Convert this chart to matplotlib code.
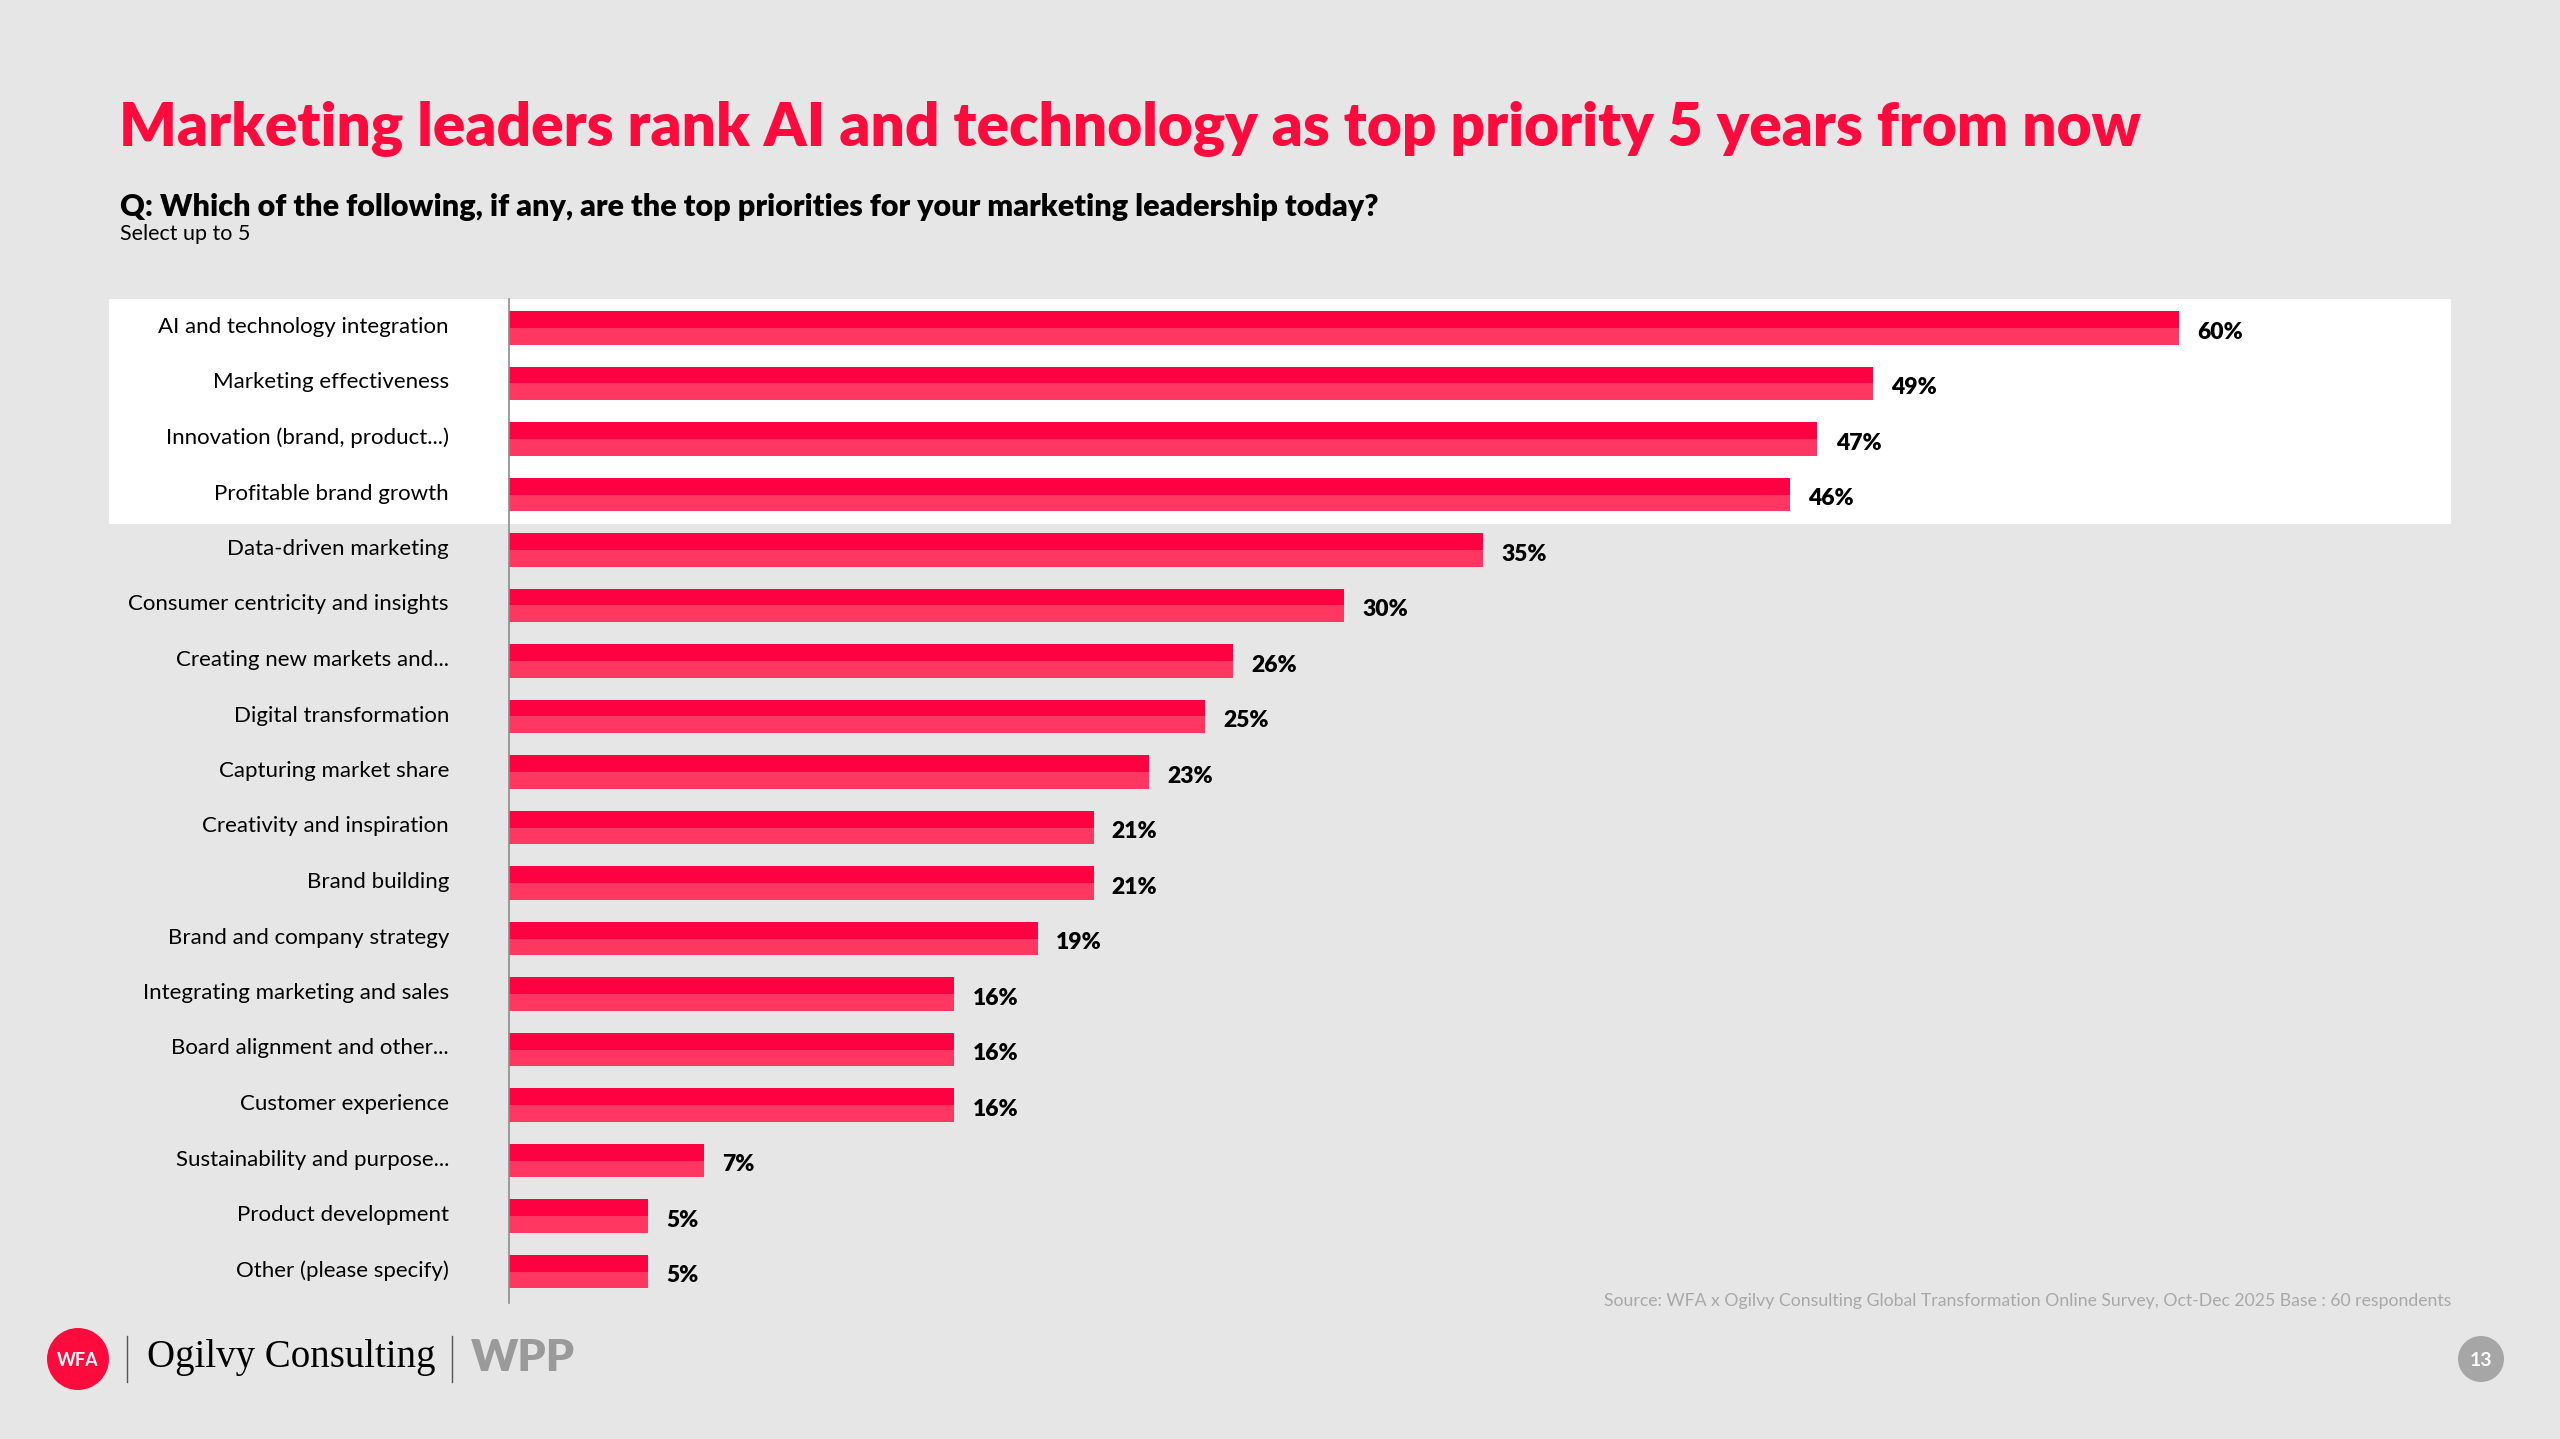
import matplotlib.pyplot as plt
from matplotlib.patches import Rectangle, Circle
from matplotlib.transforms import ScaledTranslation

categories = [
    "AI and technology integration",
    "Marketing effectiveness",
    "Innovation (brand, product...)",
    "Profitable brand growth",
    "Data-driven marketing",
    "Consumer centricity and insights",
    "Creating new markets and...",
    "Digital transformation",
    "Capturing market share",
    "Creativity and inspiration",
    "Brand building",
    "Brand and company strategy",
    "Integrating marketing and sales",
    "Board alignment and other...",
    "Customer experience",
    "Sustainability and purpose...",
    "Product development",
    "Other (please specify)",
]
values = [60, 49, 47, 46, 35, 30, 26, 25, 23, 21, 21, 19, 16, 16, 16, 7, 5, 5]
highlighted = 4  # top rows sitting on the white panel

title = "Marketing leaders rank AI and technology as top priority 5 years from now"
question = "Q: Which of the following, if any, are the top priorities for your marketing leadership today?"
note = "Select up to 5"
source = "Source: WFA x Ogilvy Consulting Global Transformation Online Survey, Oct-Dec 2025 Base : 60 respondents"

RED = "#FF0A3C"
DARK = "#FF0040"
LIGHT = "#FF3761"
BG = "#E6E6E6"
FONT = "Lato"

W, H = 2560, 1439
fig = plt.figure(figsize=(W / 100, H / 100), dpi=100, facecolor=BG)

# full-figure layer in pixel units for panel, headings and footer
bg = fig.add_axes([0, 0, 1, 1], zorder=0)
bg.set_xlim(0, W)
bg.set_ylim(H, 0)
bg.axis("off")

# main chart area (pixels)
x0, x1 = 509, 2451
y0, y1 = 299, 1303
px_per_pct = 27.84
c_first, pitch = 328, 55.5

ax = fig.add_axes([x0 / W, 1 - y1 / H, (x1 - x0) / W, (y1 - y0) / H], zorder=2)
ax.set_facecolor("none")
ax.set_xlim(0, (x1 - x0) / px_per_pct)
ax.set_ylim(17 + (y1 - c_first - 17 * pitch) / pitch, -(c_first - y0) / pitch)

# white panel behind the top rows
panel_bottom = c_first + (highlighted - 0.5) * pitch + 2
bg.add_patch(Rectangle((109, y0), x1 - 109, panel_bottom - y0, facecolor="white",
                       edgecolor="none", zorder=0))

ypos = list(range(len(categories)))
ax.barh(ypos, values, height=0.6, color=LIGHT, edgecolor="none")
ax.barh([y - 0.15 for y in ypos], values, height=0.3, color=DARK, edgecolor="none")

for y, v in zip(ypos, values):
    ax.text(v + 0.65, y + 0.08, f"{v}%", ha="left", va="center", fontsize=16.5,
            fontweight="heavy", family=FONT, color="black")

ax.set_yticks(ypos)
ax.set_yticklabels(categories, fontsize=16, family=FONT, color="black")
ax.tick_params(axis="y", length=0, pad=(x0 - 449) * 0.72)
shift = ScaledTranslation(0, 3 / 100, fig.dpi_scale_trans)
for lab in ax.get_yticklabels():
    lab.set_transform(lab.get_transform() + shift)
ax.set_xticks([])
for s in ["top", "right", "bottom"]:
    ax.spines[s].set_visible(False)
ax.spines["left"].set_color("#8C8C8C")
ax.spines["left"].set_linewidth(1.2)

# headings
bg.text(119, 128, title, fontsize=43.5, fontweight="heavy", color=RED, family=FONT,
        ha="left", va="center")
bg.text(120, 207, question, fontsize=22, fontweight="heavy", color="black", family=FONT,
        ha="left", va="center")
bg.text(120, 234, note, fontsize=15.5, color="black", family=FONT, ha="left", va="center")

bg.text(x1, 1301, source, fontsize=12.7, color="#A8A8A8", family=FONT, ha="right",
        va="center")

# footer logos
bg.add_patch(Circle((78, 1359), 31, facecolor=RED, edgecolor="none"))
bg.text(78, 1360, "WFA", fontsize=13, fontweight="bold", color="white", family=FONT,
        ha="center", va="center")
bg.plot([127, 127], [1336, 1382], color="#555555", lw=1)
bg.text(147, 1357, "Ogilvy Consulting", fontsize=28, color="black",
        family="Liberation Serif", ha="left", va="center")
bg.plot([452, 452], [1336, 1382], color="#555555", lw=1)
bg.text(471, 1358, "WPP", fontsize=32, fontweight="heavy", color="#9A9A9A",
        family=FONT, ha="left", va="center")

bg.add_patch(Circle((2481, 1359), 23, facecolor="#A6A6A6", edgecolor="none"))
bg.text(2481, 1360, "13", fontsize=14, fontweight="bold", color="white", family=FONT,
        ha="center", va="center")

fig.savefig("out.png", dpi=100, facecolor=BG)
